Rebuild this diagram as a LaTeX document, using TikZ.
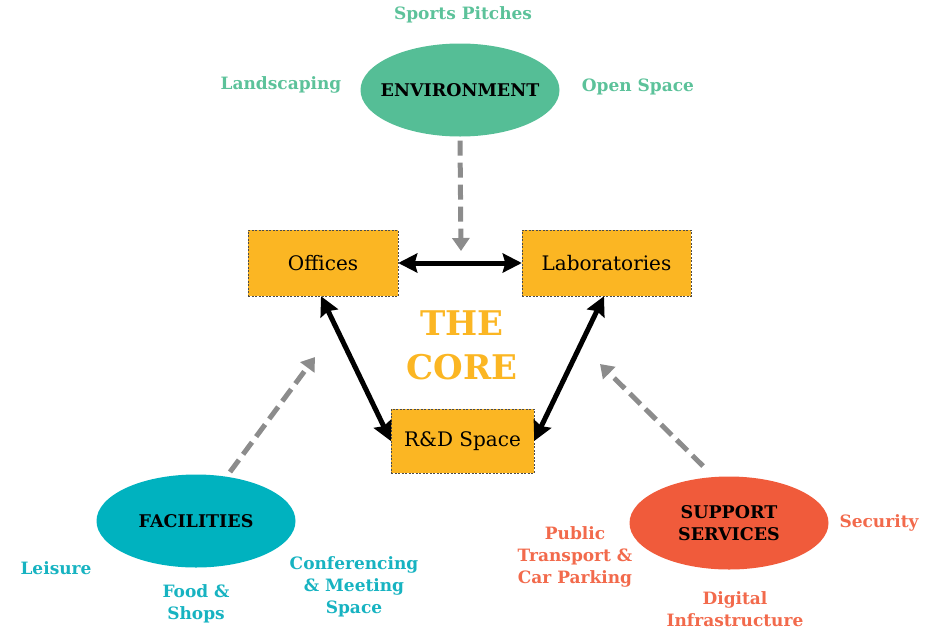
\documentclass[tikz,border=0pt]{standalone}
\usepackage{fontspec}
\setmainfont{DejaVu Serif}
\usetikzlibrary{shapes.geometric,arrows.meta}
\definecolor{envc}{HTML}{55BE96}
\definecolor{envt}{HTML}{5CC29A}
\definecolor{facc}{HTML}{00B2BF}
\definecolor{fact}{HTML}{17B3C1}
\definecolor{supc}{HTML}{F05B3B}
\definecolor{supt}{HTML}{F26A4C}
\definecolor{corec}{HTML}{FBB623}
\definecolor{dashc}{HTML}{8C8C8C}
\tikzset{
  hub/.style={ellipse, minimum width=199pt, minimum height=93pt, inner sep=0pt, align=center, font=\fontsize{17.5}{22}\selectfont\bfseries, text=black},
  corebox/.style={draw=black!70, dashed, dash pattern=on 2pt off 1.5pt, fill=corec, inner sep=0pt, font=\fontsize{20}{22}\selectfont},
  lab/.style={align=center, font=\fontsize{17}{22}\selectfont\bfseries},
  link/.style={draw=black, line width=5pt, arrows={Stealth[length=19pt,width=19pt,inset=2.5pt]-Stealth[length=19pt,width=19pt,inset=2.5pt]}},
  feed/.style={draw=dashc, line width=5pt, dash pattern=on 15pt off 7pt, arrows={-Triangle[length=13pt,width=17pt]}},
}
\newcommand{\zw}[1]{\makebox[0pt]{#1}}
\begin{document}
\begin{tikzpicture}[x=1pt,y=-1pt]
\useasboundingbox (0,0) rectangle (934,630);
% hubs
\node[hub, fill=envc] (env) at (460,90) {\zw{ENVIRONMENT}};
\node[hub, fill=facc] (fac) at (196,521) {\zw{FACILITIES}};
\node[hub, fill=supc] (sup) at (729,523) {\zw{SUPPORT}\\\zw{SERVICES}};
% core boxes
\node[corebox, minimum width=150pt, minimum height=66pt] (off) at (323,263) {Offices};
\node[corebox, minimum width=169pt, minimum height=66pt] (labs) at (606.5,263) {Laboratories};
\node[corebox, minimum width=143pt, minimum height=64pt] (rd) at (462.5,441) {R\&D Space};
\node[text=corec, font=\fontsize{34}{44}\selectfont\bfseries, align=center] (core) at (462,345) {THE\\CORE};
% labels
\node[lab, text=envt] (l1) at (463,15) {Sports Pitches};
\node[lab, text=envt] (l2) at (281,85) {Landscaping};
\node[lab, text=envt] (l3) at (638,87) {Open Space};
\node[lab, text=fact] (l4) at (56,568) {Leisure};
\node[lab, text=fact] (l5) at (196,604) {Food \&\\Shops};
\node[lab, text=fact] (l6) at (354,587) {Conferencing\\\& Meeting\\Space};
\node[lab, text=supt] (l7) at (879,523) {Security};
\node[lab, text=supt] (l8) at (575,557) {Public\\Transport \&\\Car Parking};
\node[lab, text=supt] (l9) at (735,609) {Digital\\Infrastructure};
% links
\draw[link] (off.east) -- (labs.west);
\draw[link] (off.south -| 321,0) -- (rd.west);
\draw[link] (labs.south -| 604,0) -- (rd.east);
% feeds
\coordinate (t1) at (461,251);
\coordinate (t2) at (315,357);
\coordinate (t3) at (600,364);
\draw[feed] (env.south) ++(0,4) -- (t1);
\draw[feed] (230,472) -- (t2);
\draw[feed] (703,466) -- (t3);
\end{tikzpicture}
\end{document}
